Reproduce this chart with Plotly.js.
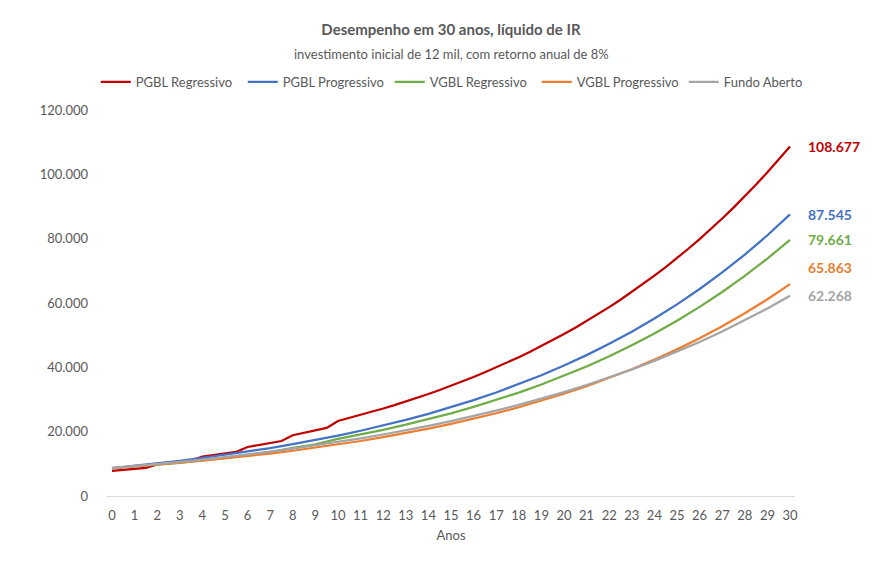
<!DOCTYPE html>
<html>
<head>
<meta charset="utf-8">
<script src="https://cdn.plot.ly/plotly-3.0.1.min.js"></script>
<style>html,body{margin:0;padding:0;background:#fff;}#chart{width:887px;height:573px;}</style>
</head>
<body>
<div id="chart"></div>
<script>
// Years (annual points) and half-year points for the PGBL Regressivo series
const anos = [0,1,2,3,4,5,6,7,8,9,10,11,12,13,14,15,16,17,18,19,20,21,22,23,24,25,26,27,28,29,30];
const anosSemestre = [0,0.5,1,1.5,2,2.5,3,3.5,4,4.5,5,5.5,6,6.5,7,7.5,8,8.5,9,9.5,10,10.5,11,11.5,12,12.5,13,13.5,14,14.5,15,15.5,16,16.5,17,17.5,18,18.5,19,19.5,20,20.5,21,21.5,22,22.5,23,23.5,24,24.5,25,25.5,26,26.5,27,27.5,28,28.5,29,29.5,30];

const pgblRegressivo = [7800,8106,8424,8755,9798,10182,10582,10997,12244,12725,13224,13743,15234,15832,16453,17098,18880,19620,20390,21190,23316,24231,25182,26170,27196,28263,29372,30524,31722,32966,34259,35603,37000,38452,39960,41528,43157,44850,46610,48438,50338,52313,54365,56498,58715,61018,63412,65900,68485,71171,73964,76865,79881,83014,86271,89656,93173,96828,100627,104574,108677];
const pgblProgressivo = [8700,9396,10148,10960,11836,12783,13806,14910,16103,17391,18783,20285,21908,23661,25554,27598,29806,32190,34765,37547,40550,43794,47298,51082,55168,59582,64348,69496,75056,81060,87545];
const vgblRegressivo = [8700,9152,9713,10282,11052,11762,12785,13668,14993,16088,17774,19127,20587,22165,23868,25708,27695,29841,32159,34662,37365,40285,43438,46844,50522,54494,58784,63417,68420,73824,79661];
const vgblProgressivo = [8700,9205,9750,10338,10974,11660,12402,13203,14067,15001,16010,17099,18276,19547,20919,22401,24002,25730,27597,29614,31792,34143,36684,39427,42390,45589,49045,52777,56808,61161,65863];
const fundoAberto = [8700,9290,9920,10592,11311,12078,12896,13771,14705,15702,16766,17903,19117,20413,21797,23275,24853,26538,28338,30259,32311,34502,36841,39339,42006,44854,47896,51143,54611,58314,62268];

const nomes = ["PGBL Regressivo","PGBL Progressivo","VGBL Regressivo","VGBL Progressivo","Fundo Aberto"];
const cores = ["#C00000","#4472C4","#70AD47","#ED7D31","#A5A5A5"];
const xs = [anosSemestre, anos, anos, anos, anos];
const ys = [pgblRegressivo, pgblProgressivo, vgblRegressivo, vgblProgressivo, fundoAberto];
const deslocY = [0, 0, 0, 17, 0];

const fmt = v => Math.round(v).toString().replace(/\B(?=(\d{3})+(?!\d))/g, ".");

const traces = nomes.map((n,i) => ({
  x: xs[i], y: ys[i], name: n, type: "scatter", mode: "lines",
  line: {color: cores[i], width: 2.25}, hoverinfo: "skip"
}));

const annotations = nomes.map((n,i) => {
  const last = ys[i][ys[i].length-1];
  return {
    x: xs[i][xs[i].length-1], y: last, xref: "x", yref: "y",
    text: "<b>" + fmt(last) + "</b>", showarrow: false,
    xanchor: "left", yanchor: "middle", xshift: 16, yshift: deslocY[i],
    font: {family: "Lato, 'Open Sans', sans-serif", size: 14, color: cores[i]}
  };
});
annotations.push({
  xref: "paper", yref: "paper", x: 0.5, y: 1 + (110-54)/386, yanchor: "middle",
  text: "investimento inicial de 12 mil, com retorno anual de 8%", showarrow: false,
  xanchor: "center", font: {family: "Lato, 'Open Sans', sans-serif", size: 13, color: "#595959"}
});

const layout = {
  width: 887, height: 573,
  margin: {l: 107, r: 92, t: 110, b: 77},
  paper_bgcolor: "#fff", plot_bgcolor: "#fff",
  separators: ",.",
  font: {family: "Lato, 'Open Sans', sans-serif", size: 13, color: "#595959"},
  title: {text: "<b>Desempenho em 30 anos, líquido de IR</b>", x: 0.5, xref: "paper",
          y: 1 - 30/573, yref: "container", yanchor: "middle",
          font: {family: "Lato, 'Open Sans', sans-serif", size: 15, color: "#595959"}},
  showlegend: true,
  legend: {orientation: "h", xref: "paper", x: 1.052, xanchor: "right",
           yref: "paper", y: 1 + (110-82)/386, yanchor: "middle",
           font: {size: 13, color: "#595959"}, traceorder: "normal", itemwidth: 30,
           entrywidth: 102, entrywidthmode: "pixels"},
  xaxis: {range: [-0.22, 30.22], tickmode: "array", tickvals: anos, ticktext: anos.map(String),
          showgrid: false, zeroline: false, showline: false, ticks: "", ticklabelstandoff: 10,
          tickfont: {size: 13, color: "#595959"},
          title: {text: "Anos", standoff: 8, font: {size: 13, color: "#595959"}}, fixedrange: true},
  yaxis: {range: [0, 120000], tickvals: [0,20000,40000,60000,80000,100000,120000],
          ticktext: ["0","20.000","40.000","60.000","80.000","100.000","120.000"],
          showgrid: false, zeroline: true, zerolinecolor: "#D9D9D9", zerolinewidth: 1,
          showline: false, ticks: "", ticklabelstandoff: 18,
          tickfont: {size: 13, color: "#595959"}, fixedrange: true},
  annotations: annotations
};

Plotly.newPlot("chart", traces, layout, {displayModeBar: false, staticPlot: true});
</script>
</body>
</html>
